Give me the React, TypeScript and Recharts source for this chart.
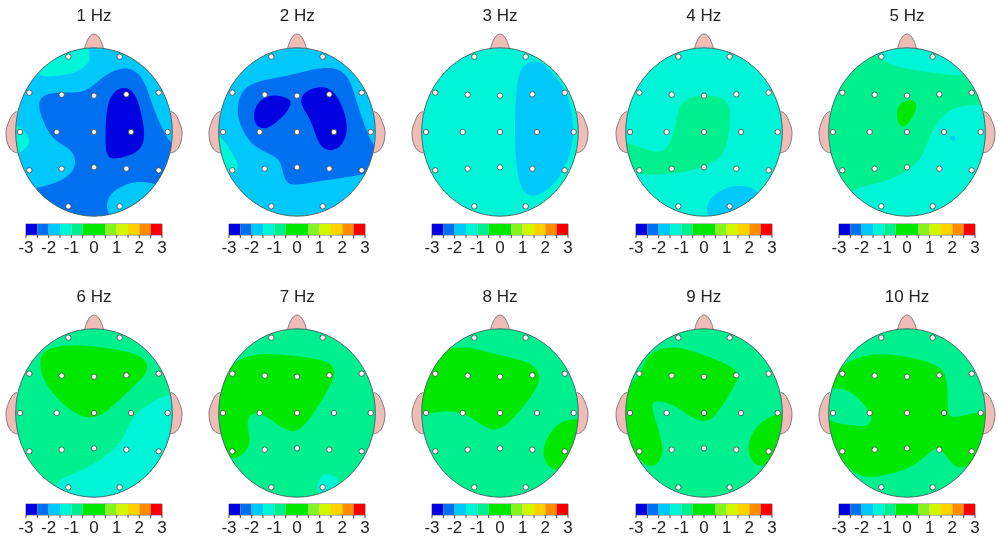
import React from 'react';
import { ScatterChart, Scatter, XAxis, YAxis, BarChart, Bar, ReferenceArea } from 'recharts';

type Pt = [number, number];
type Blob = { level: number; points: Pt[] };

const TITLES = ['1 Hz', '2 Hz', '3 Hz', '4 Hz', '5 Hz', '6 Hz', '7 Hz', '8 Hz', '9 Hz', '10 Hz'];
// reading frame: the panel's head centre, in 3x crop units
const CROP_CX = [282, 292, 300, 281, 291, 282, 292, 300, 281, 291];
const CROP_CY = [397, 397, 397, 397, 397, 398, 398, 398, 398, 398];
const PAGE_CX = [94, 297.3, 500, 703.7, 907, 94, 297.3, 500, 703.7, 907];
const PAGE_CY = [132.4, 132.4, 132.4, 132.4, 132.4, 412.7, 412.7, 412.7, 412.7, 412.7];
const BASE_LEVEL = [2, 2, 3, 3, 4, 4, 4, 4, 4, 4];

const LEVEL_COLORS = ['#0000e0', '#0070f0', '#00c8fa', '#00f5d8', '#00f090', '#00e800', '#00e800', '#86f21e', '#d2f500', '#ffd200', '#ff8c00', '#f80000'];
const BAR_TICKS = [-3, -2.5, -2, -1.5, -1, -0.5, 0, 0.5, 1, 1.5, 2, 2.5, 3];
const BAR_STEP = 0.5;

const ELECTRODES: Pt[] = [
  [-77, 226], [77, 226],
  [-194, 118], [-97, 112], [0, 109], [97, 113], [194, 118],
  [-222, 0], [-112, 0], [0, 0], [111, 0], [221, 0],
  [-194, -115], [-97, -110], [0, -106], [97, -110], [194, -115],
  [-77, -223], [77, -223],
];
const NOSE: Pt[] = [[-28, 252], [-23, 268], [-14, 285], [0, 294], [14, 285], [23, 268], [28, 252]];
const EAR_L: Pt[] = [[-230, 62], [-245, 52], [-258, 25], [-264, -3], [-258, -38], [-243, -58], [-228, -63]];
const EAR_R: Pt[] = [[230, 62], [245, 52], [258, 25], [264, -3], [258, -38], [243, -58], [228, -63]];

const P1: Blob[] = [
  { level: 3, points: [[112, 232], [160, 230], [212, 224], [252, 207], [272, 180], [268, 152], [255, 125], [180, 115], [100, 180]] },
  { level: 3, points: [[25, 368], [60, 380], [82, 403], [91, 428], [74, 450], [50, 465], [25, 465]] },
  { level: 1, points: [[114, 308], [130, 284], [180, 276], [250, 282], [290, 248], [330, 216], [380, 200], [424, 222], [449, 290], [473, 360], [515, 445], [560, 445], [550, 700], [180, 700], [60, 580], [105, 566], [170, 550], [214, 524], [230, 490], [218, 450], [170, 428], [143, 397], [122, 345]] },
  { level: 2, points: [[318, 616], [328, 588], [350, 568], [385, 550], [425, 545], [465, 553], [500, 560], [450, 630], [380, 670], [325, 650]] },
  { level: 0, points: [[318, 340], [328, 296], [350, 268], [382, 261], [406, 284], [419, 320], [432, 380], [434, 424], [417, 454], [385, 469], [340, 481], [318, 468], [316, 420]] },
];
const P2: Blob[] = [
  { level: 3, points: [[45, 405], [66, 413], [88, 445], [108, 480], [119, 502], [102, 524], [80, 525], [35, 440]] },
  { level: 1, points: [[114, 320], [122, 282], [150, 252], [210, 237], [280, 226], [340, 208], [402, 201], [444, 224], [464, 280], [484, 350], [524, 456], [570, 460], [540, 510], [495, 525], [400, 539], [330, 549], [273, 559], [254, 540], [246, 500], [238, 478], [200, 458], [158, 438], [127, 392], [114, 350]] },
  { level: 0, points: [[161, 345], [172, 307], [210, 284], [252, 290], [280, 303], [263, 337], [232, 368], [195, 392], [166, 378]] },
  { level: 0, points: [[298, 310], [312, 277], [350, 261], [392, 264], [419, 298], [439, 350], [444, 397], [428, 438], [395, 456], [362, 443], [346, 400], [331, 355]] },
];
const P3: Blob[] = [
  { level: 2, points: [[344, 400], [346, 300], [356, 208], [390, 183], [428, 186], [463, 228], [499, 268], [519, 350], [522, 422], [498, 503], [452, 569], [400, 594], [367, 579], [348, 512]] },
];
const P4: Blob[] = [
  { level: 4, points: [[201, 345], [212, 307], [250, 288], [310, 284], [354, 303], [362, 340], [354, 422], [338, 473], [280, 504], [200, 522], [100, 526], [70, 522], [20, 428], [52, 428], [100, 447], [148, 462], [177, 438], [191, 400]] },
  { level: 2, points: [[286, 630], [302, 588], [350, 561], [400, 556], [460, 572], [420, 660], [300, 670]] },
];
const P5: Blob[] = [
  { level: 3, points: [[190, 168], [250, 199], [320, 214], [400, 222], [490, 236], [490, 120], [300, 100], [190, 120]] },
  { level: 3, points: [[120, 566], [200, 554], [280, 524], [333, 483], [354, 422], [382, 362], [430, 321], [510, 314], [570, 316], [570, 570], [300, 700], [110, 620]] },
  { level: 5, points: [[258, 340], [268, 311], [300, 298], [324, 308], [313, 347], [286, 384], [265, 378]] },
  { level: 2, points: [[416, 415], [428, 405], [440, 416], [428, 427]] },
];
const P6: Blob[] = [
  { level: 5, points: [[118, 250], [128, 212], [180, 194], [280, 196], [380, 211], [434, 232], [450, 266], [413, 308], [343, 373], [286, 420], [228, 404], [167, 353], [126, 292]] },
  { level: 3, points: [[160, 603], [240, 574], [312, 534], [369, 483], [389, 422], [432, 378], [500, 340], [570, 335], [570, 570], [300, 700], [175, 650]] },
];
const P7: Blob[] = [
  { level: 5, points: [[130, 226], [220, 218], [320, 231], [388, 241], [412, 275], [389, 322], [344, 398], [303, 449], [275, 456], [233, 434], [190, 399], [153, 396], [139, 430], [154, 480], [144, 508], [105, 546], [40, 510], [25, 350], [80, 265]] },
  { level: 3, points: [[350, 608], [368, 581], [396, 581], [426, 600], [395, 650], [355, 640]] },
];
const P8: Blob[] = [
  { level: 5, points: [[160, 201], [220, 201], [300, 226], [382, 241], [424, 275], [414, 322], [363, 388], [323, 433], [285, 454], [243, 434], [200, 399], [130, 389], [70, 404], [30, 404], [40, 300], [100, 215]] },
  { level: 5, points: [[441, 470], [478, 421], [530, 416], [580, 416], [570, 530], [465, 581], [436, 547], [426, 515]] },
];
const P9: Blob[] = [
  { level: 5, points: [[110, 226], [160, 199], [220, 201], [300, 231], [372, 261], [390, 290], [354, 347], [313, 413], [275, 429], [233, 404], [185, 369], [132, 359], [122, 375], [139, 430], [159, 500], [154, 538], [115, 576], [40, 480], [10, 400], [45, 325], [80, 296], [100, 260]] },
  { level: 5, points: [[411, 500], [427, 448], [470, 411], [515, 396], [570, 396], [560, 510], [450, 571], [421, 537]] },
];
const P10: Blob[] = [
  { level: 5, points: [[110, 246], [170, 221], [240, 221], [330, 236], [398, 261], [412, 300], [414, 380], [416, 418], [470, 401], [525, 396], [580, 396], [570, 490], [462, 576], [423, 548], [395, 509], [380, 499], [352, 524], [300, 564], [240, 582], [170, 594], [125, 576], [40, 480], [30, 330], [80, 270]] },
  { level: 4, points: [[30, 325], [100, 321], [142, 347], [173, 388], [190, 416], [172, 441], [120, 434], [30, 422]] },
];
const PANEL_BLOBS = [P1, P2, P3, P4, P5, P6, P7, P8, P9, P10];

const HEAD_RX = 235;
const HEAD_RY = 252.5;
const CHART_W = 186;
const CHART_H = 200;
const FONT = '"Liberation Sans", Arial, sans-serif';
const NoDot = () => null;

const toRows = (pts: Pt[]) => pts.map(([x, y]) => ({ x, y }));
// one row, twelve stacked half-unit cells measured from the -3 end
const BAR_ROW: Record<string, number | string> = { name: 'scale' };
LEVEL_COLORS.forEach((_, k) => {
  BAR_ROW[`c${k}`] = BAR_STEP;
});
const BAR_POS = BAR_TICKS.map((t) => t + 3);

function Head({ i }: { i: number }) {
  const cx = CROP_CX[i];
  const cy = CROP_CY[i];
  const clipId = `head-clip-${i}`;
  const rel = (pts: Pt[]) => toRows(pts.map(([x, y]): Pt => [cx + x, cy - y]));
  const oval = (fill: string, stroke: string) => (p: any) => (
    <ellipse cx={p.cx} cy={p.cy} rx={HEAD_RX / 3} ry={HEAD_RY / 3} fill={fill} stroke={stroke} strokeWidth={1} />
  );
  const skin = { fill: '#f0bcb8', stroke: '#666', strokeWidth: 0.8 };
  return (
    <ScatterChart width={CHART_W} height={CHART_H} margin={{ top: 0, right: 0, bottom: 0, left: 0 }}>
      <defs>
        <clipPath id={clipId}>
          <ellipse cx={CHART_W / 2} cy={CHART_H / 2} rx={HEAD_RX / 3} ry={HEAD_RY / 3} />
        </clipPath>
      </defs>
      <XAxis hide type="number" dataKey="x" domain={[cx - 279, cx + 279]} allowDataOverflow />
      <YAxis hide type="number" dataKey="y" reversed domain={[cy - 300, cy + 300]} allowDataOverflow />
      {[NOSE, EAR_L, EAR_R].map((part, k) => (
        <Scatter key={k} data={rel(part)} isAnimationActive={false} shape={NoDot} line={skin} lineJointType="natural" />
      ))}
      <Scatter data={[{ x: cx, y: cy }]} isAnimationActive={false} shape={oval(LEVEL_COLORS[BASE_LEVEL[i]], 'none')} />
      {PANEL_BLOBS[i].map((b, k) => (
        <Scatter
          key={k}
          data={toRows(b.points)}
          isAnimationActive={false}
          shape={NoDot}
          lineJointType="basisClosed"
          line={{ fill: LEVEL_COLORS[b.level], stroke: 'none', clipPath: `url(#${clipId})` }}
        />
      ))}
      <Scatter data={[{ x: cx, y: cy }]} isAnimationActive={false} shape={oval('none', '#4a6a6a')} />
      <Scatter
        data={rel(ELECTRODES)}
        isAnimationActive={false}
        shape={(p: any) => <circle cx={p.cx} cy={p.cy} r={2.7} fill="#fff" stroke="#444" strokeWidth={0.8} />}
      />
    </ScatterChart>
  );
}

function ColorBar() {
  return (
    <BarChart
      layout="vertical"
      width={200}
      height={42}
      data={[BAR_ROW]}
      barCategoryGap={0}
      margin={{ top: 2, right: 32, bottom: 0, left: 32 }}
    >
      <XAxis
        type="number"
        domain={[0, 6]}
        ticks={BAR_POS}
        interval={0}
        axisLine={false}
        tickSize={3}
        tickMargin={3}
        height={29}
        stroke="#444"
        tick={{ fontSize: 17, fontFamily: FONT, fill: '#222' }}
        tickFormatter={(v: number) => (Number.isInteger(v) ? String(v - 3) : '')}
      />
      <YAxis hide type="category" dataKey="name" />
      {LEVEL_COLORS.map((c, k) => (
        <Bar key={k} dataKey={`c${k}`} stackId="scale" fill={c} stroke="none" isAnimationActive={false} />
      ))}
      <ReferenceArea x1={0} x2={6} fill="none" stroke="#555" strokeWidth={0.8} />
    </BarChart>
  );
}

export default function App() {
  return (
    <div style={{ position: 'absolute', left: 0, top: 0, width: 1002, height: 541, overflow: 'hidden', background: '#fff', filter: 'blur(0.45px)' }}>
      {TITLES.map((t, i) => {
        const row = i < 5 ? 0 : 1;
        return (
          <React.Fragment key={t}>
            <div style={{ position: 'absolute', left: PAGE_CX[i] - 60, width: 120, top: row ? 287 : 6, textAlign: 'center', fontFamily: FONT, fontSize: 17, lineHeight: '19px', color: '#222' }}>{t}</div>
            <div style={{ position: 'absolute', left: PAGE_CX[i] - CHART_W / 2, top: PAGE_CY[i] - CHART_H / 2, width: CHART_W, height: CHART_H }}>
              <Head i={i} />
            </div>
            <div style={{ position: 'absolute', left: PAGE_CX[i] - 100, top: row ? 501.5 : 221.5, width: 200, height: 42 }}>
              <ColorBar />
            </div>
          </React.Fragment>
        );
      })}
    </div>
  );
}
